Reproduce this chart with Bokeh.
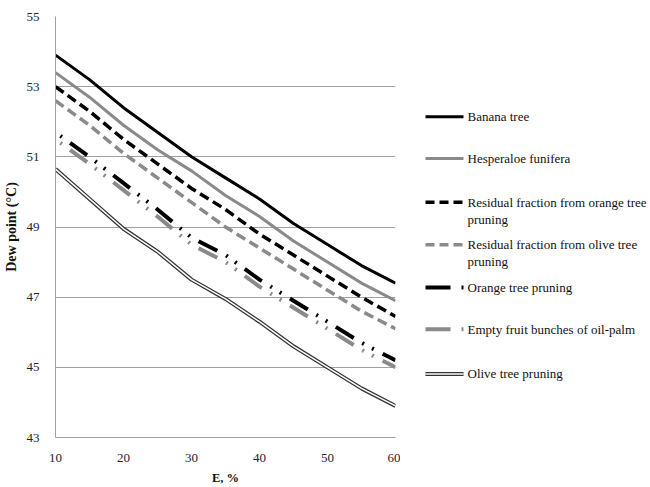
from bokeh.plotting import figure
from bokeh.layouts import row
from bokeh.models import Range1d, FixedTicker
from bokeh.core.properties import value
from bokeh.embed import file_html
from bokeh.resources import INLINE

# Extraction yield E (%) and dew point (°C) for each biomass
E = [10, 15, 20, 25, 30, 35, 40, 45, 50, 55, 60]
banana = [53.9, 53.2, 52.4, 51.7, 51.0, 50.4, 49.8, 49.1, 48.5, 47.9, 47.4]
hesperaloe = [53.4, 52.7, 51.9, 51.2, 50.6, 49.9, 49.3, 48.6, 48.0, 47.4, 46.9]
resid_orange = [53.0, 52.3, 51.5, 50.8, 50.1, 49.5, 48.8, 48.2, 47.6, 47.0, 46.45]
resid_olive = [52.6, 51.9, 51.1, 50.4, 49.7, 49.0, 48.4, 47.8, 47.2, 46.6, 46.1]
orange_pruning = [51.7, 51.0, 50.25, 49.5, 48.7, 48.2, 47.5, 46.9, 46.3, 45.7, 45.2]
oil_palm = [51.5, 50.8, 50.05, 49.3, 48.5, 48.0, 47.3, 46.7, 46.1, 45.5, 45.0]
olive_pruning = [50.65, 49.8, 48.95, 48.3, 47.5, 46.95, 46.3, 45.6, 45.0, 44.4, 43.9]

x_ticks = [10, 20, 30, 40, 50, 60]
y_ticks = [43, 45, 47, 49, 51, 53, 55]

legend_labels = [
    ["Banana tree"],
    ["Hesperaloe funifera"],
    ["Residual fraction from orange tree", "pruning"],
    ["Residual fraction from olive tree", "pruning"],
    ["Orange tree pruning"],
    ["Empty fruit bunches of oil-palm"],
    ["Olive tree pruning"],
]

SERIF = "Liberation Serif"
GRAY = "#8a8a8a"
AXIS_GRAY = "#a0a0a0"
DASHDOT = "21 10 2 9 2 10"

p = figure(width=400, height=487, output_backend="svg", toolbar_location=None,
           x_range=Range1d(10, 60), y_range=Range1d(43, 55),
           min_border_left=49, min_border_right=5, min_border_top=16,
           min_border_bottom=47)
p.outline_line_color = None
p.background_fill_color = "white"
p.border_fill_color = "white"

p.xgrid.grid_line_color = None
p.ygrid.grid_line_color = AXIS_GRAY
p.ygrid.grid_line_width = 1
p.ygrid.ticker = FixedTicker(ticks=y_ticks)

p.xaxis.ticker = FixedTicker(ticks=x_ticks)
p.yaxis.ticker = FixedTicker(ticks=y_ticks)
for ax in (p.xaxis, p.yaxis):
    ax.axis_line_color = AXIS_GRAY
    ax.axis_line_width = 1
    ax.major_tick_line_color = None
    ax.minor_tick_line_color = None
    ax.major_label_text_font = SERIF
    ax.major_label_text_font_size = "13px"
    ax.major_label_text_color = "#222233"
    ax.axis_label_text_font = SERIF
    ax.axis_label_text_font_style = "bold"
    ax.axis_label_text_color = "#111111"
    ax.major_label_standoff = 10

p.xaxis.axis_label = "E, %"
p.xaxis.axis_label_text_font_size = "12.5px"
p.xaxis.axis_label_standoff = 6
p.yaxis.axis_label = "Dew point (°C)"
p.yaxis.axis_label_text_font_size = "14px"
p.yaxis.axis_label_standoff = 5

# Series
p.line(E, banana, line_color="black", line_width=3)
p.line(E, hesperaloe, line_color=GRAY, line_width=3)
p.line(E, resid_orange, line_color="black", line_width=3.5, line_dash="10 5")
p.line(E, resid_olive, line_color=GRAY, line_width=3.5, line_dash="10 5")
p.line(E, orange_pruning, line_color="black", line_width=4, line_dash=DASHDOT,
       line_dash_offset=36)
p.line(E, oil_palm, line_color=GRAY, line_width=4, line_dash=DASHDOT,
       line_dash_offset=36)
p.line(E, olive_pruning, line_color="#333333", line_width=4)
p.line(E, olive_pruning, line_color="white", line_width=1.5)

# Legend panel; its frame lines up with the chart frame (16..440 px)
lg = figure(width=250, height=487, output_backend="svg", toolbar_location=None,
            x_range=Range1d(0, 250), y_range=Range1d(440, 16),
            min_border=0)
lg.axis.visible = False
lg.grid.visible = False
lg.outline_line_color = None

rows_y = [117, 159, 203, 246, 289, 331, 376]
styles = [
    dict(line_color="black", line_width=3),
    dict(line_color=GRAY, line_width=3),
    dict(line_color="black", line_width=3.5, line_dash="9 5"),
    dict(line_color=GRAY, line_width=3.5, line_dash="9 5"),
    dict(line_color="black", line_width=4, line_dash="25 11 2 20"),
    dict(line_color=GRAY, line_width=4, line_dash="25 11 2 20"),
    dict(line_color="#333333", line_width=4),
]
for y, st in zip(rows_y, styles):
    lg.line([25, 63], [y, y], **st)
lg.line([25, 63], [376, 376], line_color="white", line_width=1.5)

tx, ty, tt = [], [], []
for y, lines in zip(rows_y, legend_labels):
    for i, s in enumerate(lines):
        tx.append(67)
        ty.append(y + 17 * i)
        tt.append(s)
lg.text(x=tx, y=ty, text=tt, text_font=value(SERIF), text_font_size="13px",
        text_baseline="middle", text_align="left", text_color="#111111")

layout = row(p, lg)
open("out.html", "w").write(file_html(layout, INLINE))
